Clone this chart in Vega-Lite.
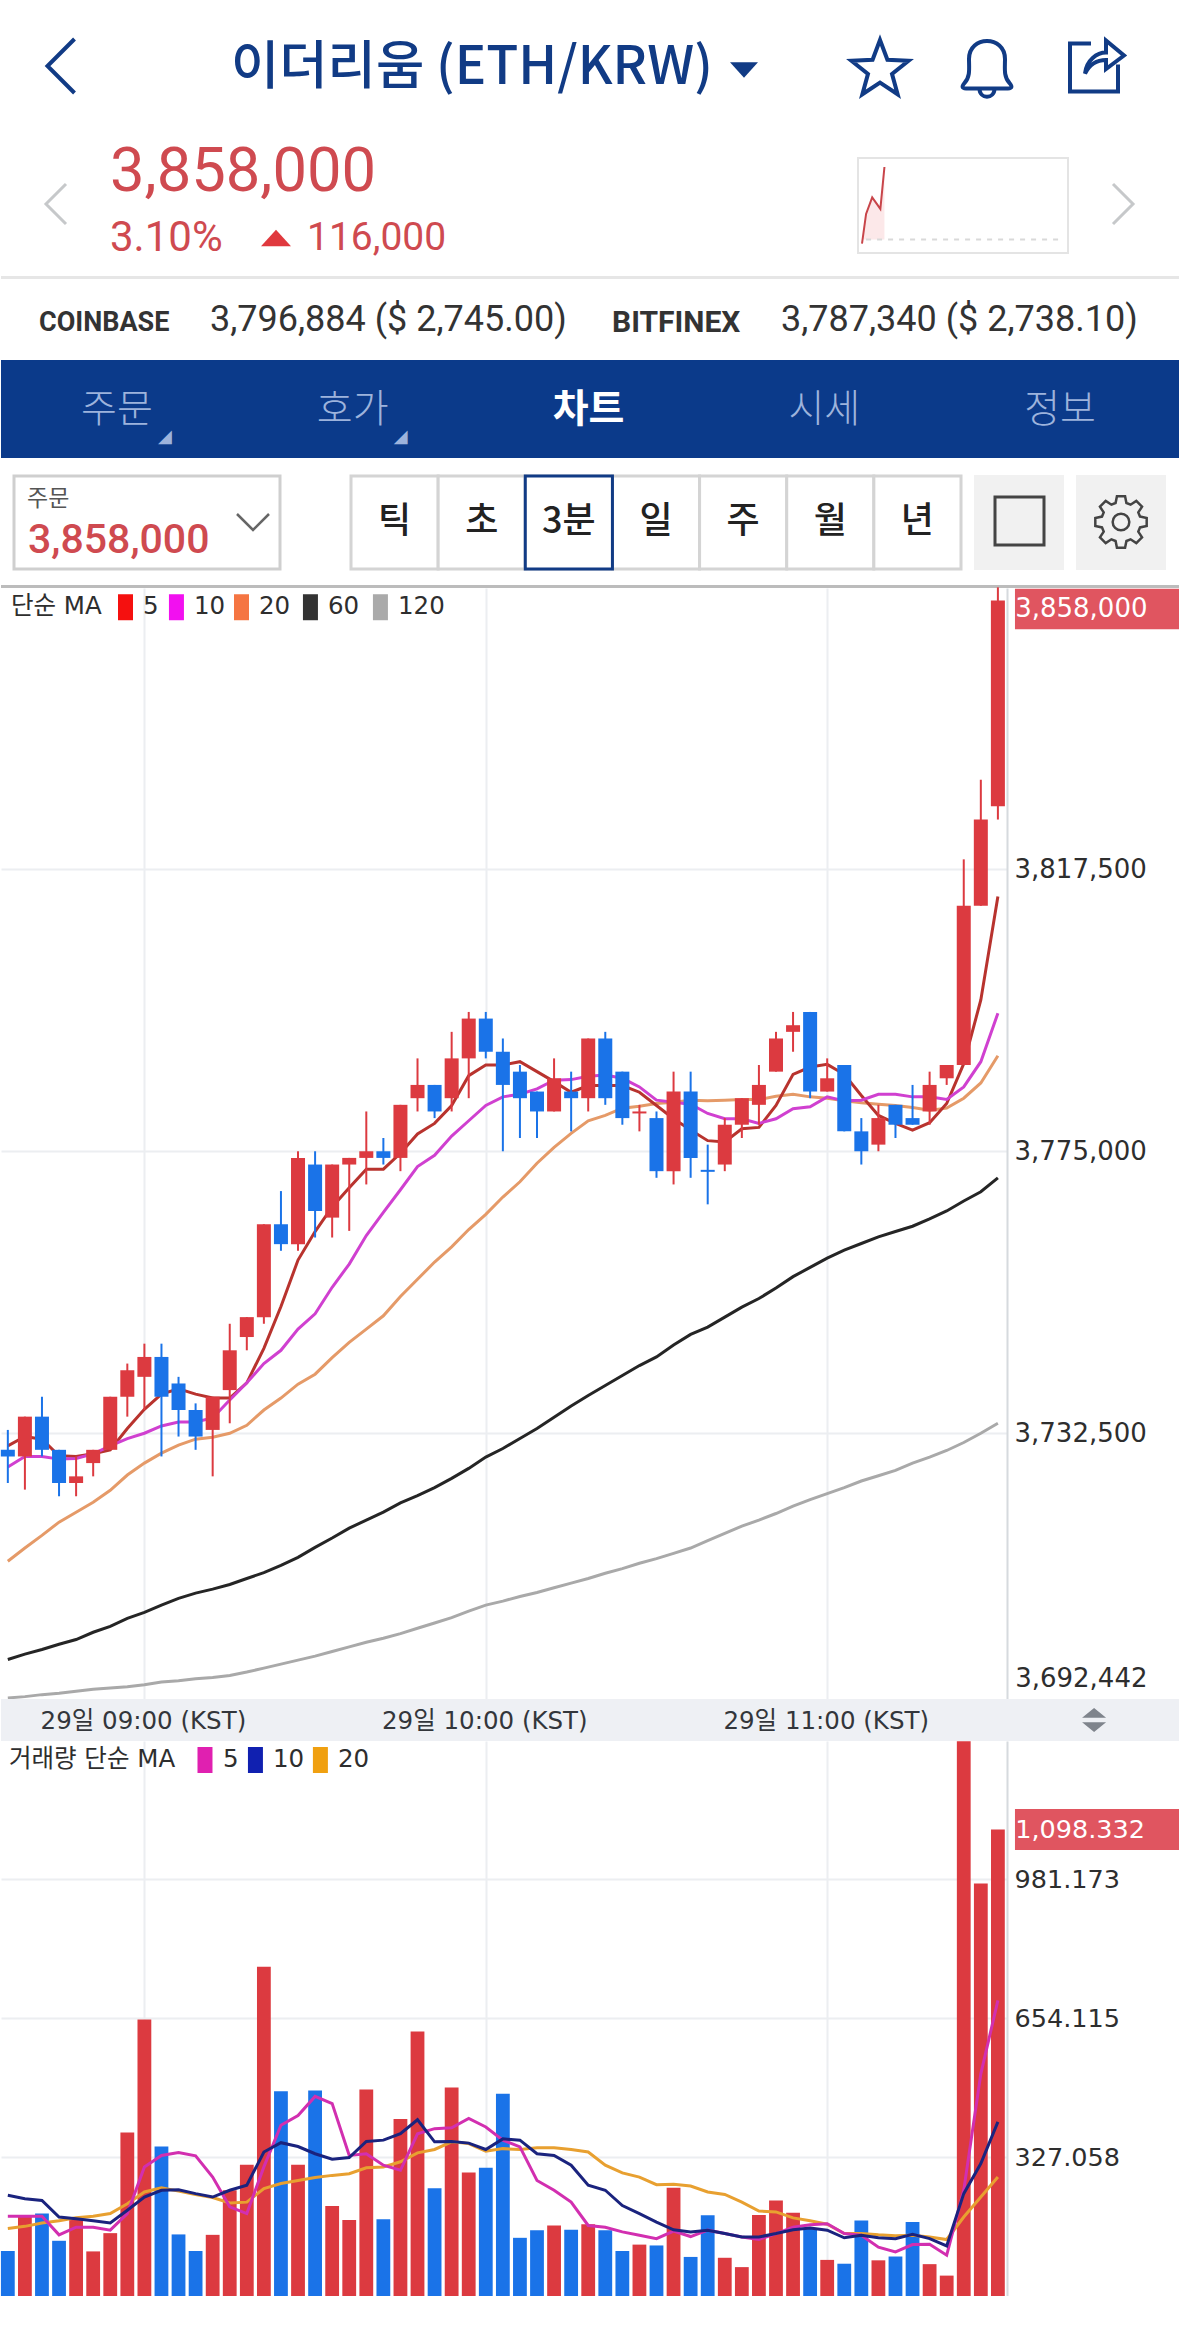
{
"$schema":"https://vega.github.io/schema/vega-lite/v6.json",
"padding":0,"spacing":0,"bounds":"flush","background":"white",
"resolve":{"scale":{"stroke":"independent","fill":"independent","color":"independent"}},
"config":{"view":{"stroke":null},"font":"DejaVu Sans"},
"datasets":{
"candles":[
{"t":"2021-04-29T08:36:00Z","dir":"down","o":3730000,"h":3733000,"l":3725000,"c":3729000,"5":3730600,"10":3727400,"20":3713200,"60":3698400,"120":3692600},
{"t":"2021-04-29T08:39:00Z","dir":"up","o":3729000,"h":3735000,"l":3724000,"c":3735000,"5":3732000,"10":3729000,"20":3715200,"60":3699200,"120":3692800},
{"t":"2021-04-29T08:42:00Z","dir":"down","o":3735000,"h":3738000,"l":3729000,"c":3730000,"5":3731600,"10":3729000,"20":3717100,"60":3699900,"120":3693100},
{"t":"2021-04-29T08:45:00Z","dir":"down","o":3730000,"h":3730000,"l":3723000,"c":3725000,"5":3729100,"10":3728600,"20":3719100,"60":3700700,"120":3693300},
{"t":"2021-04-29T08:48:00Z","dir":"up","o":3725000,"h":3729000,"l":3723000,"c":3726000,"5":3729000,"10":3728700,"20":3720600,"60":3701400,"120":3693600},
{"t":"2021-04-29T08:51:00Z","dir":"up","o":3728000,"h":3730000,"l":3726000,"c":3730000,"5":3729400,"10":3729400,"20":3722100,"60":3702500,"120":3693900},
{"t":"2021-04-29T08:54:00Z","dir":"up","o":3730000,"h":3738000,"l":3730000,"c":3738000,"5":3730000,"10":3730600,"20":3723900,"60":3703400,"120":3694100},
{"t":"2021-04-29T08:57:00Z","dir":"up","o":3738000,"h":3743000,"l":3735000,"c":3742000,"5":3733200,"10":3731700,"20":3726200,"60":3704600,"120":3694300},
{"t":"2021-04-29T09:00:00Z","dir":"up","o":3741000,"h":3746000,"l":3736000,"c":3744000,"5":3736100,"10":3732500,"20":3728000,"60":3705500,"120":3694600},
{"t":"2021-04-29T09:03:00Z","dir":"down","o":3744000,"h":3746000,"l":3729000,"c":3738000,"5":3738400,"10":3733600,"20":3729500,"60":3706600,"120":3695000},
{"t":"2021-04-29T09:06:00Z","dir":"down","o":3740000,"h":3741000,"l":3732000,"c":3736000,"5":3739200,"10":3734200,"20":3730700,"60":3707600,"120":3695200},
{"t":"2021-04-29T09:09:00Z","dir":"down","o":3736000,"h":3737000,"l":3730000,"c":3732000,"5":3738400,"10":3734200,"20":3731600,"60":3708400,"120":3695500},
{"t":"2021-04-29T09:12:00Z","dir":"up","o":3733000,"h":3738000,"l":3726000,"c":3738000,"5":3737800,"10":3734800,"20":3731900,"60":3709000,"120":3695700},
{"t":"2021-04-29T09:15:00Z","dir":"up","o":3739000,"h":3749000,"l":3734000,"c":3745000,"5":3737800,"10":3737500,"20":3732500,"60":3709700,"120":3696000},
{"t":"2021-04-29T09:18:00Z","dir":"up","o":3747000,"h":3750000,"l":3745000,"c":3750000,"5":3740100,"10":3740100,"20":3733700,"60":3710600,"120":3696500},
{"t":"2021-04-29T09:21:00Z","dir":"up","o":3750000,"h":3764000,"l":3749000,"c":3764000,"5":3745300,"10":3743000,"20":3736000,"60":3711500,"120":3697100},
{"t":"2021-04-29T09:24:00Z","dir":"down","o":3764000,"h":3769000,"l":3760000,"c":3761000,"5":3751600,"10":3745000,"20":3737800,"60":3712600,"120":3697700},
{"t":"2021-04-29T09:27:00Z","dir":"up","o":3761000,"h":3775000,"l":3760000,"c":3774000,"5":3758600,"10":3748200,"20":3739900,"60":3713800,"120":3698300},
{"t":"2021-04-29T09:30:00Z","dir":"down","o":3773000,"h":3775000,"l":3762000,"c":3766000,"5":3762900,"10":3750500,"20":3741400,"60":3715300,"120":3698900},
{"t":"2021-04-29T09:33:00Z","dir":"up","o":3765000,"h":3773000,"l":3762000,"c":3773000,"5":3766600,"10":3754500,"20":3743900,"60":3716700,"120":3699600},
{"t":"2021-04-29T09:36:00Z","dir":"up","o":3773000,"h":3774000,"l":3763000,"c":3774000,"5":3769500,"10":3758000,"20":3746200,"60":3718200,"120":3700300},
{"t":"2021-04-29T09:39:00Z","dir":"up","o":3774000,"h":3781000,"l":3770000,"c":3775000,"5":3772300,"10":3762300,"20":3748200,"60":3719400,"120":3701000},
{"t":"2021-04-29T09:42:00Z","dir":"down","o":3775000,"h":3777000,"l":3773000,"c":3774000,"5":3772300,"10":3765800,"20":3750200,"60":3720600,"120":3701600},
{"t":"2021-04-29T09:45:00Z","dir":"up","o":3774000,"h":3782000,"l":3772000,"c":3782000,"5":3774700,"10":3769200,"20":3753100,"60":3722000,"120":3702300},
{"t":"2021-04-29T09:48:00Z","dir":"up","o":3783000,"h":3789000,"l":3781000,"c":3785000,"5":3777600,"10":3772700,"20":3755700,"60":3723100,"120":3703100},
{"t":"2021-04-29T09:51:00Z","dir":"down","o":3785000,"h":3785000,"l":3780000,"c":3781000,"5":3779200,"10":3774400,"20":3758300,"60":3724300,"120":3703900},
{"t":"2021-04-29T09:54:00Z","dir":"up","o":3783000,"h":3793000,"l":3781000,"c":3789000,"5":3781900,"10":3777300,"20":3760600,"60":3725700,"120":3704700},
{"t":"2021-04-29T09:57:00Z","dir":"up","o":3789000,"h":3796000,"l":3783000,"c":3795000,"5":3786400,"10":3779600,"20":3763200,"60":3727200,"120":3705700},
{"t":"2021-04-29T10:00:00Z","dir":"down","o":3795000,"h":3796000,"l":3789000,"c":3790000,"5":3788000,"10":3781900,"20":3765500,"60":3728900,"120":3706600},
{"t":"2021-04-29T10:03:00Z","dir":"down","o":3790000,"h":3792000,"l":3775000,"c":3785000,"5":3788000,"10":3783200,"20":3768100,"60":3730200,"120":3707200},
{"t":"2021-04-29T10:06:00Z","dir":"down","o":3787000,"h":3788000,"l":3777000,"c":3783000,"5":3788500,"10":3783600,"20":3770400,"60":3731700,"120":3707900},
{"t":"2021-04-29T10:09:00Z","dir":"down","o":3784000,"h":3784000,"l":3777000,"c":3781000,"5":3787000,"10":3784400,"20":3773200,"60":3733200,"120":3708500},
{"t":"2021-04-29T10:12:00Z","dir":"up","o":3781000,"h":3789000,"l":3781000,"c":3786000,"5":3785500,"10":3785700,"20":3775600,"60":3734900,"120":3709200},
{"t":"2021-04-29T10:15:00Z","dir":"down","o":3784000,"h":3787000,"l":3778000,"c":3783000,"5":3783900,"10":3785800,"20":3777700,"60":3736600,"120":3709900},
{"t":"2021-04-29T10:18:00Z","dir":"up","o":3783000,"h":3792000,"l":3781000,"c":3792000,"5":3784900,"10":3786300,"20":3779600,"60":3738200,"120":3710600},
{"t":"2021-04-29T10:21:00Z","dir":"down","o":3792000,"h":3793000,"l":3782000,"c":3783000,"5":3784900,"10":3786500,"20":3780400,"60":3739700,"120":3711400},
{"t":"2021-04-29T10:24:00Z","dir":"down","o":3787000,"h":3787000,"l":3779000,"c":3780000,"5":3784900,"10":3786000,"20":3781500,"60":3741200,"120":3712100},
{"t":"2021-04-29T10:27:00Z","dir":"up","o":3780700,"h":3782000,"l":3778000,"c":3781000,"5":3783900,"10":3784700,"20":3781800,"60":3742700,"120":3712900},
{"t":"2021-04-29T10:30:00Z","dir":"down","o":3780000,"h":3781000,"l":3771000,"c":3772000,"5":3781900,"10":3782700,"20":3782200,"60":3744000,"120":3713600},
{"t":"2021-04-29T10:33:00Z","dir":"up","o":3772000,"h":3787000,"l":3770000,"c":3784000,"5":3779900,"10":3782400,"20":3782400,"60":3745800,"120":3714400},
{"t":"2021-04-29T10:36:00Z","dir":"down","o":3784000,"h":3787000,"l":3771000,"c":3774000,"5":3778200,"10":3782100,"20":3782700,"60":3747400,"120":3715200},
{"t":"2021-04-29T10:39:00Z","dir":"down","o":3772200,"h":3776000,"l":3767000,"c":3771900,"5":3776600,"10":3780700,"20":3782600,"60":3748500,"120":3716300},
{"t":"2021-04-29T10:42:00Z","dir":"up","o":3773000,"h":3780000,"l":3772000,"c":3779000,"5":3776400,"10":3779900,"20":3782700,"60":3750000,"120":3717400},
{"t":"2021-04-29T10:45:00Z","dir":"up","o":3779000,"h":3783000,"l":3777000,"c":3783000,"5":3778400,"10":3779900,"20":3782800,"60":3751500,"120":3718500},
{"t":"2021-04-29T10:48:00Z","dir":"up","o":3782000,"h":3788000,"l":3779000,"c":3785000,"5":3778600,"10":3779200,"20":3782800,"60":3752800,"120":3719400},
{"t":"2021-04-29T10:51:00Z","dir":"up","o":3787000,"h":3793000,"l":3787000,"c":3792000,"5":3781900,"10":3779900,"20":3783300,"60":3754400,"120":3720400},
{"t":"2021-04-29T10:54:00Z","dir":"up","o":3793000,"h":3796000,"l":3790000,"c":3794000,"5":3786600,"10":3781400,"20":3783600,"60":3756100,"120":3721500},
{"t":"2021-04-29T10:57:00Z","dir":"down","o":3796000,"h":3796000,"l":3783000,"c":3784000,"5":3787700,"10":3781700,"20":3783200,"60":3757500,"120":3722500},
{"t":"2021-04-29T11:00:00Z","dir":"up","o":3784000,"h":3789000,"l":3784000,"c":3786000,"5":3788100,"10":3783200,"20":3783000,"60":3758900,"120":3723400},
{"t":"2021-04-29T11:03:00Z","dir":"down","o":3788000,"h":3788000,"l":3778000,"c":3778000,"5":3786600,"10":3782600,"20":3782600,"60":3760100,"120":3724300},
{"t":"2021-04-29T11:06:00Z","dir":"down","o":3778000,"h":3780000,"l":3773000,"c":3775000,"5":3783400,"10":3782700,"20":3782300,"60":3761100,"120":3725300},
{"t":"2021-04-29T11:09:00Z","dir":"up","o":3776000,"h":3782000,"l":3775000,"c":3780000,"5":3780400,"10":3783600,"20":3782100,"60":3762100,"120":3726100},
{"t":"2021-04-29T11:12:00Z","dir":"down","o":3782000,"h":3782000,"l":3777000,"c":3779000,"5":3779200,"10":3783600,"20":3781900,"60":3762900,"120":3726900},
{"t":"2021-04-29T11:15:00Z","dir":"down","o":3780000,"h":3785000,"l":3779000,"c":3779000,"5":3778200,"10":3783200,"20":3781600,"60":3763700,"120":3728000},
{"t":"2021-04-29T11:18:00Z","dir":"up","o":3781000,"h":3787000,"l":3779000,"c":3785000,"5":3779300,"10":3783200,"20":3781200,"60":3764800,"120":3728900},
{"t":"2021-04-29T11:21:00Z","dir":"up","o":3786000,"h":3788000,"l":3785000,"c":3788000,"5":3782200,"10":3782800,"20":3781500,"60":3766000,"120":3729900},
{"t":"2021-04-29T11:24:00Z","dir":"up","o":3788000,"h":3819000,"l":3788000,"c":3812000,"5":3788200,"10":3784700,"20":3783000,"60":3767500,"120":3731100},
{"t":"2021-04-29T11:27:00Z","dir":"up","o":3812000,"h":3831000,"l":3812000,"c":3825000,"5":3797800,"10":3788500,"20":3785300,"60":3768900,"120":3732500},
{"t":"2021-04-29T11:30:00Z","dir":"up","o":3827000,"h":3860000,"l":3825000,"c":3858000,"5":3813400,"10":3795800,"20":3789400,"60":3771000,"120":3734000}
],
"volume":[
{"t":"2021-04-29T08:36:00Z","dir":"down","vol":106,"5":188,"10":237,"20":159},
{"t":"2021-04-29T08:39:00Z","dir":"up","vol":190,"5":188,"10":229,"20":164},
{"t":"2021-04-29T08:42:00Z","dir":"down","vol":194,"5":188,"10":225,"20":172},
{"t":"2021-04-29T08:45:00Z","dir":"down","vol":130,"5":144,"10":186,"20":177},
{"t":"2021-04-29T08:48:00Z","dir":"up","vol":182,"5":162,"10":182,"20":184},
{"t":"2021-04-29T08:51:00Z","dir":"up","vol":105,"5":162,"10":177,"20":188},
{"t":"2021-04-29T08:54:00Z","dir":"up","vol":148,"5":155,"10":172,"20":194},
{"t":"2021-04-29T08:57:00Z","dir":"up","vol":385,"5":194,"10":202,"20":217},
{"t":"2021-04-29T09:00:00Z","dir":"up","vol":651,"5":304,"10":233,"20":245},
{"t":"2021-04-29T09:03:00Z","dir":"down","vol":352,"5":331,"10":249,"20":255},
{"t":"2021-04-29T09:06:00Z","dir":"down","vol":145,"5":338,"10":250,"20":247},
{"t":"2021-04-29T09:09:00Z","dir":"down","vol":106,"5":330,"10":241,"20":239},
{"t":"2021-04-29T09:12:00Z","dir":"up","vol":144,"5":280,"10":233,"20":232},
{"t":"2021-04-29T09:15:00Z","dir":"up","vol":249,"5":210,"10":249,"20":219},
{"t":"2021-04-29T09:18:00Z","dir":"up","vol":309,"5":194,"10":261,"20":221},
{"t":"2021-04-29T09:21:00Z","dir":"up","vol":775,"5":304,"10":339,"20":253},
{"t":"2021-04-29T09:24:00Z","dir":"down","vol":482,"5":402,"10":361,"20":265},
{"t":"2021-04-29T09:27:00Z","dir":"up","vol":309,"5":425,"10":352,"20":272},
{"t":"2021-04-29T09:30:00Z","dir":"down","vol":484,"5":470,"10":335,"20":279},
{"t":"2021-04-29T09:33:00Z","dir":"up","vol":212,"5":453,"10":322,"20":284},
{"t":"2021-04-29T09:36:00Z","dir":"up","vol":179,"5":331,"10":326,"20":288},
{"t":"2021-04-29T09:39:00Z","dir":"up","vol":486,"5":335,"10":364,"20":302},
{"t":"2021-04-29T09:42:00Z","dir":"down","vol":181,"5":308,"10":367,"20":304},
{"t":"2021-04-29T09:45:00Z","dir":"up","vol":417,"5":296,"10":382,"20":316},
{"t":"2021-04-29T09:48:00Z","dir":"up","vol":623,"5":382,"10":415,"20":337},
{"t":"2021-04-29T09:51:00Z","dir":"down","vol":254,"5":394,"10":363,"20":345},
{"t":"2021-04-29T09:54:00Z","dir":"up","vol":491,"5":396,"10":364,"20":363},
{"t":"2021-04-29T09:57:00Z","dir":"up","vol":291,"5":418,"10":360,"20":359},
{"t":"2021-04-29T10:00:00Z","dir":"down","vol":302,"5":398,"10":345,"20":341},
{"t":"2021-04-29T10:03:00Z","dir":"down","vol":476,"5":367,"10":370,"20":347},
{"t":"2021-04-29T10:06:00Z","dir":"down","vol":137,"5":351,"10":367,"20":345},
{"t":"2021-04-29T10:09:00Z","dir":"down","vol":155,"5":272,"10":335,"20":349},
{"t":"2021-04-29T10:12:00Z","dir":"up","vol":166,"5":249,"10":331,"20":349},
{"t":"2021-04-29T10:15:00Z","dir":"down","vol":156,"5":221,"10":308,"20":345},
{"t":"2021-04-29T10:18:00Z","dir":"up","vol":169,"5":166,"10":261,"20":339},
{"t":"2021-04-29T10:21:00Z","dir":"down","vol":155,"5":162,"10":249,"20":308},
{"t":"2021-04-29T10:24:00Z","dir":"down","vol":106,"5":151,"10":213,"20":290},
{"t":"2021-04-29T10:27:00Z","dir":"up","vol":121,"5":143,"10":194,"20":280},
{"t":"2021-04-29T10:30:00Z","dir":"down","vol":119,"5":135,"10":174,"20":262},
{"t":"2021-04-29T10:33:00Z","dir":"up","vol":255,"5":153,"10":156,"20":263},
{"t":"2021-04-29T10:36:00Z","dir":"down","vol":92,"5":140,"10":151,"20":259},
{"t":"2021-04-29T10:39:00Z","dir":"down","vol":190,"5":155,"10":155,"20":245},
{"t":"2021-04-29T10:42:00Z","dir":"up","vol":90,"5":147,"10":147,"20":239},
{"t":"2021-04-29T10:45:00Z","dir":"up","vol":68,"5":139,"10":139,"20":221},
{"t":"2021-04-29T10:48:00Z","dir":"up","vol":191,"5":133,"10":139,"20":200},
{"t":"2021-04-29T10:51:00Z","dir":"up","vol":225,"5":147,"10":147,"20":198},
{"t":"2021-04-29T10:54:00Z","dir":"up","vol":196,"5":162,"10":156,"20":184},
{"t":"2021-04-29T10:57:00Z","dir":"down","vol":159,"5":168,"10":160,"20":177},
{"t":"2021-04-29T11:00:00Z","dir":"up","vol":85,"5":170,"10":155,"20":169},
{"t":"2021-04-29T11:03:00Z","dir":"down","vol":76,"5":147,"10":137,"20":147},
{"t":"2021-04-29T11:06:00Z","dir":"down","vol":178,"5":143,"10":143,"20":147},
{"t":"2021-04-29T11:09:00Z","dir":"up","vol":84,"5":115,"10":137,"20":144},
{"t":"2021-04-29T11:12:00Z","dir":"down","vol":93,"5":104,"10":135,"20":142},
{"t":"2021-04-29T11:15:00Z","dir":"down","vol":174,"5":121,"10":145,"20":143},
{"t":"2021-04-29T11:18:00Z","dir":"up","vol":75,"5":122,"10":135,"20":139},
{"t":"2021-04-29T11:21:00Z","dir":"up","vol":48,"5":96,"10":118,"20":133},
{"t":"2021-04-29T11:24:00Z","dir":"up","vol":1306,"5":249,"10":241,"20":186},
{"t":"2021-04-29T11:27:00Z","dir":"up","vol":971,"5":523,"10":312,"20":233},
{"t":"2021-04-29T11:30:00Z","dir":"up","vol":1098.332,"5":696,"10":410,"20":280}
],
"spark":[{"n":0,"p":3735600},{"n":2,"p":3783000},{"n":5,"p":3809500},{"n":9,"p":3791000},{"n":11,"p":3858000}]
},
"vconcat":[
{"width":1179,"height":360,
"resolve":{"scale":{"x":"independent","y":"independent"}},
"layer":[
{"data":{"values":[{"s":"이더리움 (ETH/KRW)"}]},"mark":{"type":"text","align":"left","font":"Noto Sans CJK KR","fontSize":52.5,"fontWeight":500,"color":"#113b85"},"encoding":{"text":{"field":"s"},"x":{"field":"s","type":"nominal","axis":null,"scale":{"type":"point","padding":0,"range":[230,230]}},"y":{"field":"s","type":"nominal","axis":null,"scale":{"type":"point","padding":0,"range":[68,68]}}}},
{"data":{"values":[{"s":"back"}]},"mark":{"type":"point","shape":"M0.5,-1L-0.5,0L0.5,1","size":2916,"filled":false,"opacity":1,"stroke":"#113b85","strokeWidth":4},"encoding":{"x":{"field":"s","type":"nominal","axis":null,"scale":{"type":"point","padding":0,"range":[60,60]}},"y":{"field":"s","type":"nominal","axis":null,"scale":{"type":"point","padding":0,"range":[66,66]}}}},
{"data":{"values":[{"s":"menu"}]},"mark":{"type":"point","shape":"M-1,-0.55L1,-0.55L0,0.55Z","size":784,"filled":true,"opacity":1,"fill":"#113b85"},"encoding":{"x":{"field":"s","type":"nominal","axis":null,"scale":{"type":"point","padding":0,"range":[743,743]}},"y":{"field":"s","type":"nominal","axis":null,"scale":{"type":"point","padding":0,"range":[70,70]}}}},
{"data":{"values":[{"s":"star"}]},"mark":{"type":"point","shape":"M0,-1L0.247,-0.34L0.951,-0.309L0.4,0.13L0.588,0.809L0,0.42L-0.588,0.809L-0.4,0.13L-0.951,-0.309L-0.247,-0.34Z","size":3600,"filled":false,"opacity":1,"stroke":"#113b85","strokeWidth":4},"encoding":{"x":{"field":"s","type":"nominal","axis":null,"scale":{"type":"point","padding":0,"range":[879,879]}},"y":{"field":"s","type":"nominal","axis":null,"scale":{"type":"point","padding":0,"range":[70,70]}}}},
{"data":{"values":[{"s":"bell"}]},"mark":{"type":"point","shape":"M-0.75,0.5C-0.55,0.3,-0.6,0,-0.6,-0.3C-0.6,-0.7,-0.3,-0.9,0,-0.9C0.3,-0.9,0.6,-0.7,0.6,-0.3C0.6,0,0.55,0.3,0.75,0.5Q0.9,0.68,0.7,0.68L-0.7,0.68Q-0.9,0.68,-0.75,0.5ZM-0.25,0.68C-0.25,1.05,0.25,1.05,0.25,0.68","size":3600,"filled":false,"opacity":1,"stroke":"#113b85","strokeWidth":4},"encoding":{"x":{"field":"s","type":"nominal","axis":null,"scale":{"type":"point","padding":0,"range":[986,986]}},"y":{"field":"s","type":"nominal","axis":null,"scale":{"type":"point","padding":0,"range":[68,68]}}}},
{"data":{"values":[{"s":"share"}]},"mark":{"type":"point","shape":"M-0.1,-0.75L-0.8,-0.75L-0.8,0.85L0.8,0.85L0.8,-0.05M-0.3,0.25C-0.25,-0.2,0.1,-0.45,0.4,-0.45L0.4,-0.85L1,-0.35L0.4,0.1L0.4,-0.2C0.1,-0.2,-0.15,-0.05,-0.3,0.25Z","size":3600,"filled":false,"opacity":1,"stroke":"#113b85","strokeWidth":4},"encoding":{"x":{"field":"s","type":"nominal","axis":null,"scale":{"type":"point","padding":0,"range":[1093,1093]}},"y":{"field":"s","type":"nominal","axis":null,"scale":{"type":"point","padding":0,"range":[66,66]}}}},
{"data":{"values":[{"s":"prev"}]},"mark":{"type":"point","shape":"M0.5,-1L-0.5,0L0.5,1","size":1600,"filled":false,"opacity":1,"stroke":"#c6c8ca","strokeWidth":3},"encoding":{"x":{"field":"s","type":"nominal","axis":null,"scale":{"type":"point","padding":0,"range":[55,55]}},"y":{"field":"s","type":"nominal","axis":null,"scale":{"type":"point","padding":0,"range":[204,204]}}}},
{"data":{"values":[{"s":"next"}]},"mark":{"type":"point","shape":"M-0.5,-1L0.5,0L-0.5,1","size":1600,"filled":false,"opacity":1,"stroke":"#c6c8ca","strokeWidth":3},"encoding":{"x":{"field":"s","type":"nominal","axis":null,"scale":{"type":"point","padding":0,"range":[1122,1122]}},"y":{"field":"s","type":"nominal","axis":null,"scale":{"type":"point","padding":0,"range":[204,204]}}}},
{"data":{"values":[{"s":"3,858,000"}]},"mark":{"type":"text","align":"left","font":"Roboto","fontSize":61.5,"color":"#cf4a50"},"encoding":{"text":{"field":"s"},"x":{"field":"s","type":"nominal","axis":null,"scale":{"type":"point","padding":0,"range":[109,109]}},"y":{"field":"s","type":"nominal","axis":null,"scale":{"type":"point","padding":0,"range":[173,173]}}}},
{"data":{"values":[{"s":"3.10%"}]},"mark":{"type":"text","align":"left","font":"Roboto","fontSize":42,"color":"#cf4a50"},"encoding":{"text":{"field":"s"},"x":{"field":"s","type":"nominal","axis":null,"scale":{"type":"point","padding":0,"range":[109,109]}},"y":{"field":"s","type":"nominal","axis":null,"scale":{"type":"point","padding":0,"range":[238,238]}}}},
{"data":{"values":[{"s":"up"}]},"mark":{"type":"point","shape":"M0,-0.55L1,0.55L-1,0.55Z","size":900,"filled":true,"opacity":1,"fill":"#e0393e"},"encoding":{"x":{"field":"s","type":"nominal","axis":null,"scale":{"type":"point","padding":0,"range":[275,275]}},"y":{"field":"s","type":"nominal","axis":null,"scale":{"type":"point","padding":0,"range":[238,238]}}}},
{"data":{"values":[{"s":"116,000"}]},"mark":{"type":"text","align":"left","font":"Roboto","fontSize":39,"color":"#cf4a50"},"encoding":{"text":{"field":"s"},"x":{"field":"s","type":"nominal","axis":null,"scale":{"type":"point","padding":0,"range":[306,306]}},"y":{"field":"s","type":"nominal","axis":null,"scale":{"type":"point","padding":0,"range":[238,238]}}}},
{"data":{"values":[{"s":"frame"}]},"mark":{"type":"rect","fill":"white","stroke":"#e4e4e4","strokeWidth":2},"encoding":{"x":{"field":"s","type":"nominal","axis":null,"scale":{"type":"band","padding":0,"range":[857,1067]}},"y":{"field":"s","type":"nominal","axis":null,"scale":{"type":"band","padding":0,"range":[158,253]}}}},
{"data":{"name":"spark"},"mark":{"type":"area","color":"#fce8e9"},"encoding":{"x":{"field":"n","type":"quantitative","axis":null,"scale":{"domain":[0,100],"range":[861,1065]}},"y":{"field":"p","type":"quantitative","axis":null,"scale":{"domain":[3735000,3858000],"range":[244,167],"zero":false,"nice":false}},"y2":{"datum":3742000}}},
{"data":{"values":[{"a":2,"b":97,"p":3742000}]},"mark":{"type":"rule","stroke":"#d9d9d9","strokeWidth":2,"strokeDash":[5,6]},"encoding":{"x":{"field":"a","type":"quantitative","axis":null,"scale":{"domain":[0,100],"range":[861,1065]}},"x2":{"field":"b"},"y":{"field":"p","type":"quantitative","axis":null,"scale":{"domain":[3735000,3858000],"range":[244,167],"zero":false,"nice":false}}}},
{"data":{"name":"spark"},"mark":{"type":"line","color":"#c8454a","strokeWidth":2},"encoding":{"x":{"field":"n","type":"quantitative","axis":null,"scale":{"domain":[0,100],"range":[861,1065]}},"y":{"field":"p","type":"quantitative","axis":null,"scale":{"domain":[3735000,3858000],"range":[244,167],"zero":false,"nice":false}}}},
{"data":{"values":[{"s":"divider"}]},"mark":{"type":"rect","fill":"#e6e6e6"},"encoding":{"x":{"field":"s","type":"nominal","axis":null,"scale":{"type":"band","padding":0,"range":[0,1179]}},"y":{"field":"s","type":"nominal","axis":null,"scale":{"type":"band","padding":0,"range":[276,279]}}}},
{"data":{"values":[{"s":"COINBASE"}]},"mark":{"type":"text","align":"left","font":"Roboto","fontSize":27,"fontWeight":"bold","color":"#333333"},"encoding":{"text":{"field":"s"},"x":{"field":"s","type":"nominal","axis":null,"scale":{"type":"point","padding":0,"range":[38,38]}},"y":{"field":"s","type":"nominal","axis":null,"scale":{"type":"point","padding":0,"range":[323,323]}}}},
{"data":{"values":[{"s":"3,796,884 ($ 2,745.00)"}]},"mark":{"type":"text","align":"left","font":"Roboto","fontSize":36,"color":"#333333"},"encoding":{"text":{"field":"s"},"x":{"field":"s","type":"nominal","axis":null,"scale":{"type":"point","padding":0,"range":[209,209]}},"y":{"field":"s","type":"nominal","axis":null,"scale":{"type":"point","padding":0,"range":[320,320]}}}},
{"data":{"values":[{"s":"BITFINEX"}]},"mark":{"type":"text","align":"left","font":"Roboto","fontSize":30,"fontWeight":"bold","color":"#333333"},"encoding":{"text":{"field":"s"},"x":{"field":"s","type":"nominal","axis":null,"scale":{"type":"point","padding":0,"range":[611,611]}},"y":{"field":"s","type":"nominal","axis":null,"scale":{"type":"point","padding":0,"range":[323,323]}}}},
{"data":{"values":[{"s":"3,787,340 ($ 2,738.10)"}]},"mark":{"type":"text","align":"left","font":"Roboto","fontSize":36,"color":"#333333"},"encoding":{"text":{"field":"s"},"x":{"field":"s","type":"nominal","axis":null,"scale":{"type":"point","padding":0,"range":[780,780]}},"y":{"field":"s","type":"nominal","axis":null,"scale":{"type":"point","padding":0,"range":[320,320]}}}}
]},
{"width":1179,"height":98,"view":{"fill":"#0b3a8a"},
"data":{"values":[{"tab":"주문","mark":"◢"},{"tab":"호가","mark":"◢"},{"tab":"차트","mark":""},{"tab":"시세","mark":""},{"tab":"정보","mark":""}]},
"encoding":{"x":{"field":"tab","type":"nominal","axis":null,"scale":{"type":"band","padding":0,"domain":["주문","호가","차트","시세","정보"]}}},
"layer":[
{"transform":[{"filter":"datum.tab !== '차트'"}],"mark":{"type":"text","font":"Noto Sans CJK KR","fontSize":39,"fontWeight":300,"color":"#9db3dc","dy":1,"dx":-2},"encoding":{"text":{"field":"tab"}}},
{"transform":[{"filter":"datum.tab === '차트'"}],"mark":{"type":"text","font":"Noto Sans CJK KR","fontSize":39,"fontWeight":700,"color":"#ffffff","dy":1,"dx":-2},"encoding":{"text":{"field":"tab"}}},
{"mark":{"type":"text","font":"DejaVu Sans","fontSize":18,"color":"#9db3dc","dx":46,"dy":28},"encoding":{"text":{"field":"mark"}}}
]},
{"width":1179,"height":130,
"resolve":{"scale":{"x":"independent","y":"independent"}},
"layer":[
{"data":{"values":[{"s":"select"}]},"mark":{"type":"rect","fill":"white","stroke":"#cfcfcf","strokeWidth":3},"encoding":{"x":{"field":"s","type":"nominal","axis":null,"scale":{"type":"band","padding":0,"range":[13,279]}},"y":{"field":"s","type":"nominal","axis":null,"scale":{"type":"band","padding":0,"range":[18,111]}}}},
{"data":{"values":[{"s":"주문"}]},"mark":{"type":"text","align":"left","font":"Noto Sans CJK KR","fontSize":23,"color":"#555555"},"encoding":{"text":{"field":"s"},"x":{"field":"s","type":"nominal","axis":null,"scale":{"type":"point","padding":0,"range":[26,26]}},"y":{"field":"s","type":"nominal","axis":null,"scale":{"type":"point","padding":0,"range":[41,41]}}}},
{"data":{"values":[{"s":"3,858,000"}]},"mark":{"type":"text","align":"left","font":"Roboto","fontSize":41,"fontWeight":500,"color":"#cf4a50"},"encoding":{"text":{"field":"s"},"x":{"field":"s","type":"nominal","axis":null,"scale":{"type":"point","padding":0,"range":[27,27]}},"y":{"field":"s","type":"nominal","axis":null,"scale":{"type":"point","padding":0,"range":[83,83]}}}},
{"data":{"values":[{"s":"open"}]},"mark":{"type":"point","shape":"M-1,-0.5L0,0.5L1,-0.5","size":1024,"filled":false,"opacity":1,"stroke":"#666666","strokeWidth":2.5},"encoding":{"x":{"field":"s","type":"nominal","axis":null,"scale":{"type":"point","padding":0,"range":[252,252]}},"y":{"field":"s","type":"nominal","axis":null,"scale":{"type":"point","padding":0,"range":[64,64]}}}},
{"data":{"values":[{"s":"틱"},{"s":"초"},{"s":"3분"},{"s":"일"},{"s":"주"},{"s":"월"},{"s":"년"}]},"mark":{"type":"rect","fill":"white","stroke":"#d4d4d4","strokeWidth":3},"encoding":{"x":{"field":"s","type":"nominal","sort":null,"axis":null,"scale":{"type":"band","padding":0,"range":[350,960]}},"y":{"datum":"b","type":"nominal","axis":null,"scale":{"type":"band","padding":0,"range":[18,111]}}}},
{"data":{"values":[{"s":"틱"},{"s":"초"},{"s":"3분"},{"s":"일"},{"s":"주"},{"s":"월"},{"s":"년"}]},"transform":[{"filter":"datum.s === '3분'"}],"mark":{"type":"rect","fill":"white","stroke":"#113b85","strokeWidth":3},"encoding":{"x":{"field":"s","type":"nominal","axis":null,"scale":{"type":"band","padding":0,"domain":["틱","초","3분","일","주","월","년"],"range":[350,960]}},"y":{"datum":"b","type":"nominal","axis":null,"scale":{"type":"band","padding":0,"range":[18,111]}}}},
{"data":{"values":[{"s":"틱"},{"s":"초"},{"s":"3분"},{"s":"일"},{"s":"주"},{"s":"월"},{"s":"년"}]},"mark":{"type":"text","font":"Noto Sans CJK KR","fontSize":36,"fontWeight":500,"color":"#222222"},"encoding":{"text":{"field":"s"},"x":{"field":"s","type":"nominal","sort":null,"axis":null,"scale":{"type":"band","padding":0,"range":[350,960]}},"y":{"datum":"b","type":"nominal","axis":null,"scale":{"type":"point","padding":0,"range":[64,64]}}}},
{"data":{"values":[{"s":"layout"}]},"mark":{"type":"rect","fill":"#f1f1f1"},"encoding":{"x":{"field":"s","type":"nominal","axis":null,"scale":{"type":"band","padding":0,"range":[973,1063]}},"y":{"field":"s","type":"nominal","axis":null,"scale":{"type":"band","padding":0,"range":[17,112]}}}},
{"data":{"values":[{"s":"box"}]},"mark":{"type":"rect","fill":"#f1f1f1","stroke":"#444444","strokeWidth":3},"encoding":{"x":{"field":"s","type":"nominal","axis":null,"scale":{"type":"band","padding":0,"range":[994,1043]}},"y":{"field":"s","type":"nominal","axis":null,"scale":{"type":"band","padding":0,"range":[39,87]}}}},
{"data":{"values":[{"s":"settings"}]},"mark":{"type":"rect","fill":"#f1f1f1"},"encoding":{"x":{"field":"s","type":"nominal","axis":null,"scale":{"type":"band","padding":0,"range":[1075,1165]}},"y":{"field":"s","type":"nominal","axis":null,"scale":{"type":"band","padding":0,"range":[17,112]}}}},
{"data":{"values":[{"s":"gear"}]},"mark":{"type":"point","shape":"M0.731,-0.209L0.988,-0.156L0.988,0.156L0.731,0.209L0.665,0.368L0.809,0.588L0.588,0.809L0.368,0.665L0.209,0.731L0.156,0.988L-0.156,0.988L-0.209,0.731L-0.368,0.665L-0.588,0.809L-0.809,0.588L-0.665,0.368L-0.731,0.209L-0.988,0.156L-0.988,-0.156L-0.731,-0.209L-0.665,-0.368L-0.809,-0.588L-0.588,-0.809L-0.368,-0.665L-0.209,-0.731L-0.156,-0.988L0.156,-0.988L0.209,-0.731L0.368,-0.665L0.588,-0.809L0.809,-0.588L0.665,-0.368ZM0.32,0A0.32,0.32,0,1,1,-0.32,0A0.32,0.32,0,1,1,0.32,0Z","size":2704,"filled":false,"opacity":1,"stroke":"#444444","strokeWidth":2.5},"encoding":{"x":{"field":"s","type":"nominal","axis":null,"scale":{"type":"point","padding":0,"range":[1120,1120]}},"y":{"field":"s","type":"nominal","axis":null,"scale":{"type":"point","padding":0,"range":[64,64]}}}},
{"data":{"values":[{"s":"rule"}]},"mark":{"type":"rect","fill":"#bcbcbc"},"encoding":{"x":{"field":"s","type":"nominal","axis":null,"scale":{"type":"band","padding":0,"range":[0,1179]}},"y":{"field":"s","type":"nominal","axis":null,"scale":{"type":"band","padding":0,"range":[127,130]}}}}
]},
{"width":1006,"height":1111,
"layer":[
{"data":{"name":"candles"},"transform":[{"fold":["120","60","20","5","10"],"as":["ma","v"]}],"mark":{"type":"line","strokeWidth":3},
"encoding":{
"x":{"field":"t","type":"temporal","title":null,"scale":{"type":"utc","padding":0,"domain":[{"year":2021,"month":4,"date":29,"hours":8,"minutes":34,"seconds":48,"utc":true},{"year":2021,"month":4,"date":29,"hours":11,"minutes":31,"seconds":36,"utc":true}]},"axis":{"grid":true,"gridColor":"#eceef1","gridWidth":2,"labels":false,"ticks":false,"domain":false,"title":null,"values":[{"year":2021,"month":4,"date":29,"hours":9,"utc":true},{"year":2021,"month":4,"date":29,"hours":10,"utc":true},{"year":2021,"month":4,"date":29,"hours":11,"utc":true}]}},
"y":{"field":"v","type":"quantitative","title":null,"scale":{"domain":[3692442,3859900],"zero":false,"nice":false},"axis":{"orient":"right","values":[3817500,3775000,3732500],"format":",d","grid":true,"gridColor":"#eceef1","gridWidth":2,"ticks":false,"domain":true,"domainColor":"#d6dade","domainWidth":2,"labelFont":"DejaVu Sans","labelFontSize":26,"labelColor":"#2e2e2e","labelPadding":7,"title":null}},
"stroke":{"field":"ma","type":"nominal","legend":null,"scale":{"domain":["5","10","20","60","120"],"range":["#b8332e","#d040d0","#e59a68","#252525","#a9a9a9"]}}}},
{"data":{"name":"candles"},"mark":{"type":"rule","strokeWidth":2},"encoding":{"x":{"field":"t","type":"temporal","title":null},"y":{"field":"h","type":"quantitative","title":null},"y2":{"field":"l"},"color":{"field":"dir","type":"nominal","legend":null,"scale":{"domain":["up","down"],"range":["#dc3a40","#1a73e8"]}}}},
{"data":{"name":"candles"},"mark":{"type":"bar","size":14},"encoding":{"x":{"field":"t","type":"temporal","title":null},"y":{"field":"o","type":"quantitative","title":null},"y2":{"field":"c"},"color":{"field":"dir","type":"nominal","legend":null,"scale":{"domain":["up","down"],"range":["#dc3a40","#1a73e8"]}}}},
{"data":{"values":[{"t":"2021-04-29T08:56:41Z","y":3857000,"ma":"5"},{"t":"2021-04-29T09:05:38Z","y":3857000,"ma":"10"},{"t":"2021-04-29T09:17:04Z","y":3857000,"ma":"20"},{"t":"2021-04-29T09:29:11Z","y":3857000,"ma":"60"},{"t":"2021-04-29T09:41:29Z","y":3857000,"ma":"120"}]},"mark":{"type":"point","shape":"M-0.577,-1H0.577V1H-0.577Z","filled":true,"size":676,"opacity":1},"encoding":{"x":{"field":"t","type":"temporal","title":null},"y":{"field":"y","type":"quantitative","title":null},"fill":{"field":"ma","type":"nominal","legend":null,"scale":{"domain":["5","10","20","60","120"],"range":["#f5100f","#f210f0","#f57542","#333333","#aaaaaa"]}}}},
{"data":{"values":[{"t":"2021-04-29T08:36:33Z","y":3857000,"label":"단순 MA"},{"t":"2021-04-29T08:59:45Z","y":3857000,"label":"5"},{"t":"2021-04-29T09:08:43Z","y":3857000,"label":"10"},{"t":"2021-04-29T09:20:08Z","y":3857000,"label":"20"},{"t":"2021-04-29T09:32:16Z","y":3857000,"label":"60"},{"t":"2021-04-29T09:44:34Z","y":3857000,"label":"120"}]},"mark":{"type":"text","align":"left","font":"DejaVu Sans, Noto Sans CJK KR","fontSize":24.5,"color":"#2e2e2e"},"encoding":{"x":{"field":"t","type":"temporal","title":null},"y":{"field":"y","type":"quantitative","title":null},"text":{"field":"label"}}},
{"data":{"values":[{"t":"2021-04-29T11:33:00Z","t2":"2021-04-29T12:02:00Z","top":3859800,"bot":3853700}]},"mark":{"type":"rect","fill":"#e05560"},"encoding":{"x":{"field":"t","type":"temporal","title":null},"x2":{"field":"t2"},"y":{"field":"top","type":"quantitative","title":null},"y2":{"field":"bot"}}},
{"data":{"values":[{"t":"2021-04-29T11:33:02Z","mid":3856800,"price":3858000}]},"mark":{"type":"text","align":"left","fontSize":26,"color":"#ffffff"},"encoding":{"x":{"field":"t","type":"temporal","title":null},"y":{"field":"mid","type":"quantitative","title":null},"text":{"field":"price","type":"quantitative","format":",d"}}},
{"data":{"values":[{"t":"2021-04-29T11:33:02Z","price":3692442}]},"mark":{"type":"text","align":"left","fontSize":26,"color":"#2e2e2e","dy":-20},"encoding":{"x":{"field":"t","type":"temporal","title":null},"y":{"field":"price","type":"quantitative","title":null},"text":{"field":"price","type":"quantitative","format":",d"}}}
]},
{"width":1179,"height":42,"view":{"fill":"#eef0f4"},
"encoding":{"x":{"field":"t","type":"temporal","axis":null,"scale":{"type":"utc","domain":[{"year":2021,"month":4,"date":29,"hours":8,"minutes":34,"seconds":48,"utc":true},{"year":2021,"month":4,"date":29,"hours":12,"minutes":2,"utc":true}]}}},
"layer":[
{"data":{"values":[{"t":"2021-04-29T09:00:00Z","label":"29일 09:00 (KST)"},{"t":"2021-04-29T10:00:00Z","label":"29일 10:00 (KST)"},{"t":"2021-04-29T11:00:00Z","label":"29일 11:00 (KST)"}]},"mark":{"type":"text","font":"DejaVu Sans, Noto Sans CJK KR","fontSize":24.5,"color":"#33363b","dy":2,"dx":-1},"encoding":{"text":{"field":"label"}}},
{"data":{"values":[{"t":"2021-04-29T11:46:54Z"}]},"mark":{"type":"point","shape":"M-1,-0.18L0,-1L1,-0.18ZM-1,0.18L0,1L1,0.18Z","size":576,"filled":true,"opacity":1,"fill":"#7f848c"}}
]},
{"width":1006,"height":555,
"layer":[
{"data":{"name":"volume"},"mark":{"type":"bar","size":13.8},
"encoding":{
"x":{"field":"t","type":"temporal","title":null,"scale":{"type":"utc","padding":0,"domain":[{"year":2021,"month":4,"date":29,"hours":8,"minutes":34,"seconds":48,"utc":true},{"year":2021,"month":4,"date":29,"hours":11,"minutes":31,"seconds":36,"utc":true}]},"axis":{"grid":true,"gridColor":"#eceef1","gridWidth":2,"labels":false,"ticks":false,"domain":false,"title":null,"values":[{"year":2021,"month":4,"date":29,"hours":9,"utc":true},{"year":2021,"month":4,"date":29,"hours":10,"utc":true},{"year":2021,"month":4,"date":29,"hours":11,"utc":true}]}},
"y":{"field":"vol","type":"quantitative","title":null,"scale":{"domain":[0,1306.8],"nice":false},"axis":{"orient":"right","values":[327.058,654.115,981.173],"format":".3f","grid":true,"gridColor":"#eceef1","gridWidth":2,"ticks":false,"domain":true,"domainColor":"#d6dade","domainWidth":2,"labelFont":"DejaVu Sans","labelFontSize":25.5,"labelColor":"#2e2e2e","labelPadding":7,"title":null}},
"color":{"field":"dir","type":"nominal","legend":null,"scale":{"domain":["up","down"],"range":["#dc3a40","#1a73e8"]}}}},
{"data":{"name":"volume"},"transform":[{"fold":["20","5","10"],"as":["ma","v"]}],"mark":{"type":"line","strokeWidth":3},"encoding":{"x":{"field":"t","type":"temporal","title":null},"y":{"field":"v","type":"quantitative","title":null},"stroke":{"field":"ma","type":"nominal","legend":null,"scale":{"domain":["5","10","20"],"range":["#d22fb0","#1a237e","#e8a030"]}}}},
{"data":{"values":[{"t":"2021-04-29T09:10:39Z","y":1262,"ma":"5"},{"t":"2021-04-29T09:19:31Z","y":1262,"ma":"10"},{"t":"2021-04-29T09:30:56Z","y":1262,"ma":"20"}]},"mark":{"type":"point","shape":"M-0.577,-1H0.577V1H-0.577Z","filled":true,"size":676,"opacity":1},"encoding":{"x":{"field":"t","type":"temporal","title":null},"y":{"field":"y","type":"quantitative","title":null},"fill":{"field":"ma","type":"nominal","legend":null,"scale":{"domain":["5","10","20"],"range":["#e020b0","#1020b0","#f0a010"]}}}},
{"data":{"values":[{"t":"2021-04-29T08:36:12Z","y":1262,"label":"거래량 단순 MA"},{"t":"2021-04-29T09:13:48Z","y":1262,"label":"5"},{"t":"2021-04-29T09:22:35Z","y":1262,"label":"10"},{"t":"2021-04-29T09:34:01Z","y":1262,"label":"20"}]},"mark":{"type":"text","align":"left","font":"DejaVu Sans, Noto Sans CJK KR","fontSize":24.5,"color":"#2e2e2e"},"encoding":{"x":{"field":"t","type":"temporal","title":null},"y":{"field":"y","type":"quantitative","title":null},"text":{"field":"label"}}},
{"data":{"values":[{"t":"2021-04-29T11:33:00Z","t2":"2021-04-29T12:02:00Z","top":1146.7,"bot":1050}]},"mark":{"type":"rect","fill":"#e05560"},"encoding":{"x":{"field":"t","type":"temporal","title":null},"x2":{"field":"t2"},"y":{"field":"top","type":"quantitative","title":null},"y2":{"field":"bot"}}},
{"data":{"values":[{"t":"2021-04-29T11:33:02Z","vol":1098.332}]},"mark":{"type":"text","align":"left","fontSize":25.5,"color":"#ffffff"},"encoding":{"x":{"field":"t","type":"temporal","title":null},"y":{"field":"vol","type":"quantitative","title":null},"text":{"field":"vol","type":"quantitative","format":",.3f"}}}
]}
]
}
